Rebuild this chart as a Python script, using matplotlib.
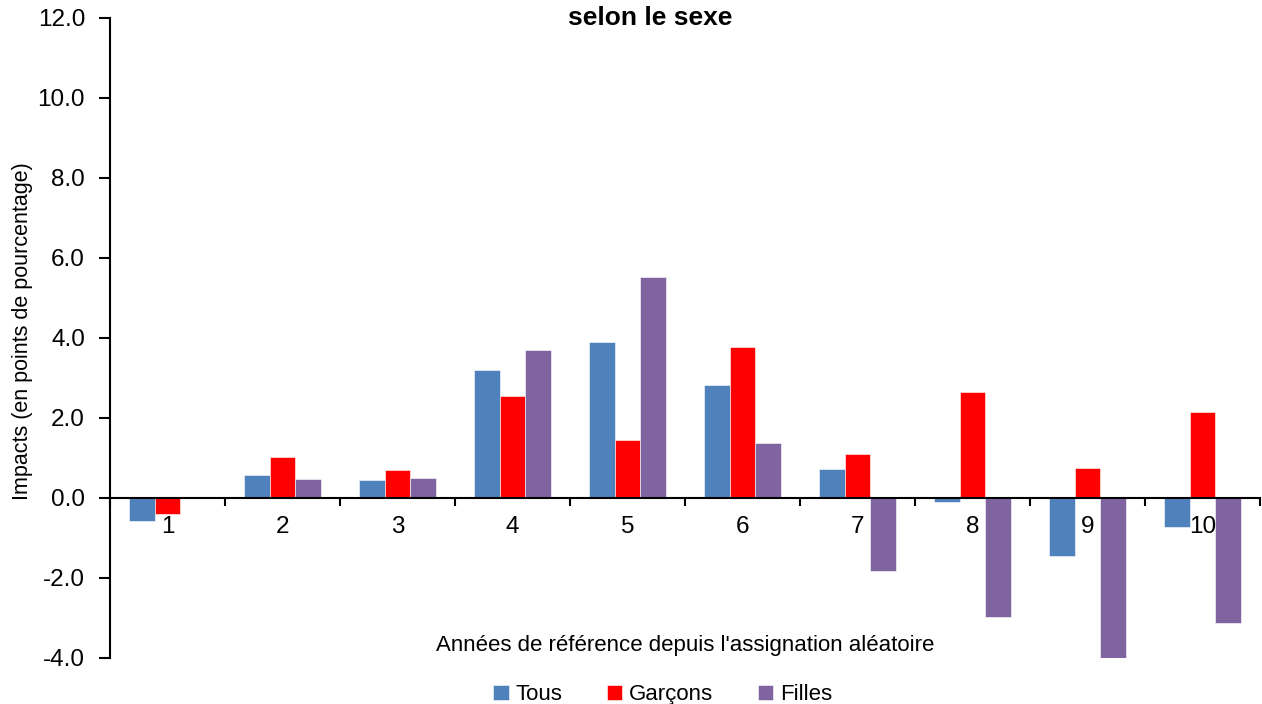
import numpy as np
import matplotlib
matplotlib.use('Agg')
import matplotlib.pyplot as plt
from matplotlib import font_manager

categories = ['1', '2', '3', '4', '5', '6', '7', '8', '9', '10']
tous = [-0.58, 0.58, 0.45, 3.2, 3.9, 2.83, 0.73, -0.1, -1.45, -0.72]
garcons = [-0.4, 1.03, 0.7, 2.55, 1.45, 3.78, 1.1, 2.65, 0.75, 2.15]
filles = [0.0, 0.48, 0.5, 3.7, 5.53, 1.38, -1.83, -2.98, -4.03, -3.13]
series_names = ['Tous', 'Garçons', 'Filles']
colors = ['#4F81BD', '#FF0000', '#8064A2']

names = [f.name for f in font_manager.fontManager.ttflist]
if 'Liberation Sans Narrow' in names:
    plt.rcParams['font.family'] = ['Liberation Sans Narrow', 'DejaVu Sans']
else:
    plt.rcParams['font.family'] = ['Liberation Sans', 'DejaVu Sans']

fig = plt.figure(figsize=(12.62, 7.04), dpi=100)
ax = fig.add_axes([110 / 1262, 46 / 704, 1150 / 1262, 640 / 704])

x = np.arange(len(categories))
w = 0.222
for i, (vals, name) in enumerate(zip([tous, garcons, filles], series_names)):
    ax.bar(x + (i - 1) * w, vals, w, color=colors[i], label=name,
           edgecolor='white', linewidth=0.4)

ax.set_xlim(-0.5, len(categories) - 0.5)
ax.set_ylim(-4, 12)
ax.set_yticks(np.arange(-4, 12.1, 2))
ax.set_yticklabels(['%.1f' % v for v in np.arange(-4, 12.1, 2)], fontsize=17.5)
ax.tick_params(axis='y', direction='out', length=8, width=1.5, pad=10)

ax.spines['top'].set_visible(False)
ax.spines['right'].set_visible(False)
ax.spines['bottom'].set_position(('data', 0))
ax.spines['left'].set_linewidth(1.5)
ax.spines['bottom'].set_linewidth(1.5)

# category boundaries as ticks
ax.set_xticks(np.arange(-0.5, len(categories), 1.0))
ax.set_xticklabels([])
ax.tick_params(axis='x', direction='out', length=6, width=1.5)
for xi, c in zip(x, categories):
    ax.text(xi, -0.45, c, ha='center', va='top', fontsize=17.5)

ax.set_ylabel('Impacts (en points de pourcentage)', fontsize=15.5)
ax.yaxis.set_label_coords(-0.067, 0.51)
ax.text(0.5, -3.7, "Années de référence depuis l'assignation aléatoire",
        transform=ax.get_yaxis_transform(), ha='center', va='center', fontsize=16)
ax.text(0.47, 1.0, 'selon le sexe', transform=ax.transAxes, ha='center',
        va='center', fontsize=19, fontweight='bold')

fig.legend(loc='lower center', bbox_to_anchor=(0.525, -0.03), ncol=3,
           frameon=False, fontsize=16, handlelength=0.7, handleheight=0.7,
           columnspacing=2.0, handletextpad=0.3)

fig.savefig('out.png', dpi=100)
